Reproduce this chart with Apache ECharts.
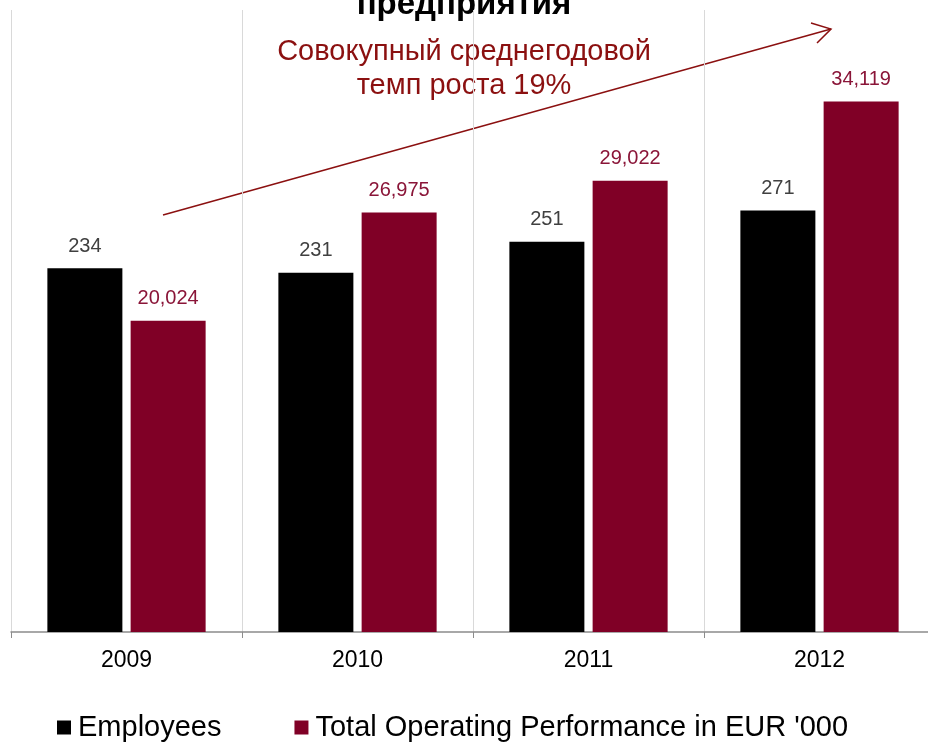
<!DOCTYPE html>
<html>
<head>
<meta charset="utf-8">
<script src="https://cdn.jsdelivr.net/npm/echarts@6/dist/echarts.min.js"></script>
<style>
  html, body { margin: 0; padding: 0; background: #fff; }
  #chart { width: 928px; height: 744px; }
</style>
</head>
<body>
<div id="chart"></div>
<script>
const years = ['2009', '2010', '2011', '2012'];
const employees = [234, 231, 251, 271];
const performance = [20024, 26975, 29022, 34119];

const RED = '#800026';
const FONT = 'Liberation Sans, Arial, sans-serif';

const chart = echarts.init(document.getElementById('chart'));

chart.setOption({
  animation: false,
  textStyle: { fontFamily: FONT },
  grid: { left: 11, top: 10, width: 924, bottom: 112, containLabel: false, outerBoundsMode: 'none' },
  legend: {
    left: 57,
    top: 713,
    padding: 0,
    icon: 'rect',
    itemWidth: 14,
    itemHeight: 14,
    itemGap: 73,
    textStyle: { fontSize: 29, color: '#000', fontFamily: FONT, padding: [0, 0, 0, 2] },
    data: ['Employees', "Total Operating Performance in EUR '000"]
  },
  xAxis: {
    type: 'category',
    data: years,
    axisLine: { lineStyle: { color: '#8c8c8c', width: 1.5 } },
    axisTick: { show: true, length: 6, lineStyle: { color: '#8c8c8c' } },
    axisLabel: { fontSize: 23, color: '#000', margin: 17 },
    splitLine: { show: true, lineStyle: { color: '#d9d9d9', width: 1 } }
  },
  yAxis: [
    { type: 'value', min: 0, max: 400, show: false, splitLine: { show: false } },
    { type: 'value', min: 0, max: 40000, show: false, splitLine: { show: false } }
  ],
  series: [
    {
      name: 'Employees',
      type: 'bar',
      yAxisIndex: 0,
      data: employees,
      barWidth: 75,
      barGap: '11%',
      itemStyle: { color: '#000' },
      label: { show: true, position: 'top', distance: 12, fontSize: 20, color: '#404040' }
    },
    {
      name: "Total Operating Performance in EUR '000",
      type: 'bar',
      yAxisIndex: 1,
      data: performance,
      barWidth: 75,
      itemStyle: { color: RED },
      label: {
        show: true, position: 'top', distance: 12, fontSize: 20, color: '#8a1538',
        formatter: p => p.value.toLocaleString('en-US')
      }
    }
  ],
  graphic: [
    {
      type: 'text',
      left: 'center',
      top: -12,
      style: { text: 'предприятия', font: 'bold 33px ' + FONT, fill: '#000' }
    },
    {
      type: 'text',
      x: 464,
      y: 35,
      style: {
        text: 'Совокупный среднегодовой\nтемп роста 19%',
        font: '29px ' + FONT,
        fill: '#8b1010',
        align: 'center',
        lineHeight: 34
      }
    },
    {
      type: 'line',
      shape: { x1: 163, y1: 215, x2: 831, y2: 29 },
      style: { stroke: '#8b1010', lineWidth: 1.5 }
    },
    {
      type: 'polyline',
      shape: { points: [[811, 23], [831, 29], [817, 43]] },
      style: { stroke: '#8b1010', lineWidth: 1.5, fill: null }
    }
  ]
});
</script>
</body>
</html>
